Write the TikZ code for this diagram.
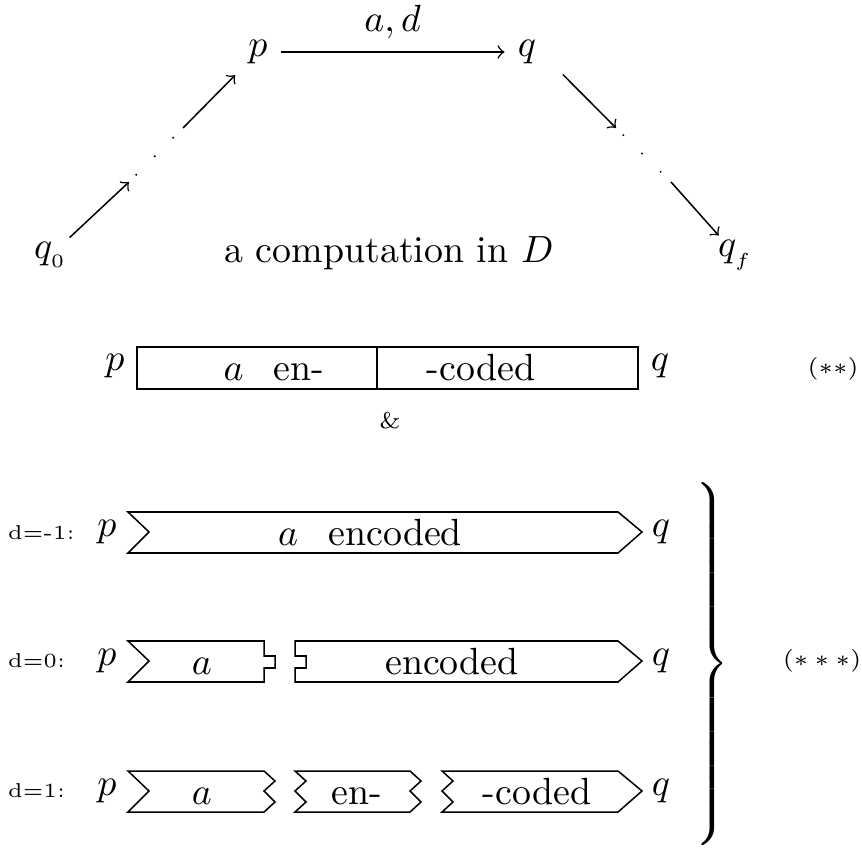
\documentclass[tikz,border=0pt]{standalone}
\usepackage{tikz}
\usetikzlibrary{positioning, calc}

\begin{document}
\begin{tikzpicture}[
    x=0.264pt, y=-0.264pt,
    state/.style={inner sep=3.33pt},
    endstate/.style={inner sep=1pt},
    arrow/.style={->},
    dotline/.style={line width=0.4pt, dash pattern=on 0.4pt off 6.5pt,
                    shorten <=2.5pt, shorten >=2.5pt},
    piece/.style={draw, line width=0.4pt},
    tag/.style={font=\fontsize{6}{7}\selectfont},
    rowtag/.style={font=\fontsize{5.3}{6}\selectfont, anchor=west, inner sep=0pt},
    word/.style={anchor=base}
]
\useasboundingbox (0,0) rectangle (862,852);

% A computation in D
\node[endstate] (q0) at (51,255) {$q_{_0}$};
\node[state] (p) at (258,52) {$p$};
\node[state] (q) at (527,52) {$q$};
\node[endstate] (qf) at (736,255) {$q_{_f}$};
\node (comp) at (389,253) {a computation in $D$};

\coordinate (l1) at (129,182);
\coordinate (l2) at (183,128);
\coordinate (r1) at (616,128);
\coordinate (r2) at (671,182);

\draw[arrow] (q0) -- (l1);
\draw[dotline] (l1) -- (l2);
\draw[arrow] (l2) -- (p);
\draw[arrow] (p) -- node[above] (ad) {$a,d$} (q);
\draw[arrow, shorten <=5pt] (q.-22) -- (r1);
\draw[dotline] (r1) -- (r2);
\draw[arrow] (r2) -- (qf);

% One block per symbol (**)
\node (pm) at (115,366) {$p$};
\node (qm) at (660,366) {$q$};
\draw[piece] (137,347) rectangle (638,389);
\draw[piece] (377,347) -- (377,389);
\node[word] (aen) at (274,381) {$a$\hspace{8pt}en-};
\node[word] (coded) at (481,381) {-coded};
\node[tag] (star2) at (833,369) {$(**)$};
\node[tag] (amp) at (390,421) {\&};

% d=-1
\node[rowtag] (dm1) at (7,533) {d=-1:};
\node (p1) at (107,532) {$p$};
\node (q1) at (661,532) {$q$};
\draw[piece] (128,512) -- (618,512) -- (642,532) -- (618,553) -- (128,553) -- (149,532) -- cycle;
\node[word] (enc1) at (370,545) {$a$\hspace{8pt}encoded};

% d=0
\node[rowtag] (d0) at (7,661) {d=0:};
\node (p2) at (107,661) {$p$};
\node (q2) at (661,661) {$q$};
\draw[piece] (128,641) -- (264,641) -- (264,656) -- (275,656) -- (275,668) -- (264,668)
    -- (264,682) -- (128,682) -- (149,661) -- cycle;
\draw[piece] (295,641) -- (618,641) -- (642,661) -- (618,682) -- (295,682) -- (295,668)
    -- (306,668) -- (306,656) -- (295,656) -- cycle;
\node[word] (a2) at (202,674) {$a$};
\node[word] (enc2) at (452,674) {encoded};

% d=1
\node[rowtag] (dp1) at (7,791) {d=1:};
\node (p3) at (107,791) {$p$};
\node (q3) at (661,791) {$q$};
\draw[piece] (128,771) -- (264,771) -- (275,781) -- (264,791) -- (275,802) -- (264,812)
    -- (128,812) -- (149,791) -- cycle;
\draw[piece] (295,771) -- (410,771) -- (421,781) -- (410,791) -- (421,802) -- (410,812)
    -- (295,812) -- (306,802) -- (295,791) -- (306,781) -- cycle;
\draw[piece] (442,771) -- (618,771) -- (642,791) -- (618,812) -- (442,812) -- (453,802)
    -- (442,791) -- (453,781) -- cycle;
\node[word] (a3) at (202,804) {$a$};
\node[word] (en3) at (357,804) {en-};
\node[word] (cod3) at (537,804) {-coded};

% (***)
\node (brace) at (710,665) {$\left.\vrule height 46pt depth 46pt width 0pt\right\}$};
\node[tag] (star3) at (822,661) {$(***)$};

\end{tikzpicture}
\end{document}
